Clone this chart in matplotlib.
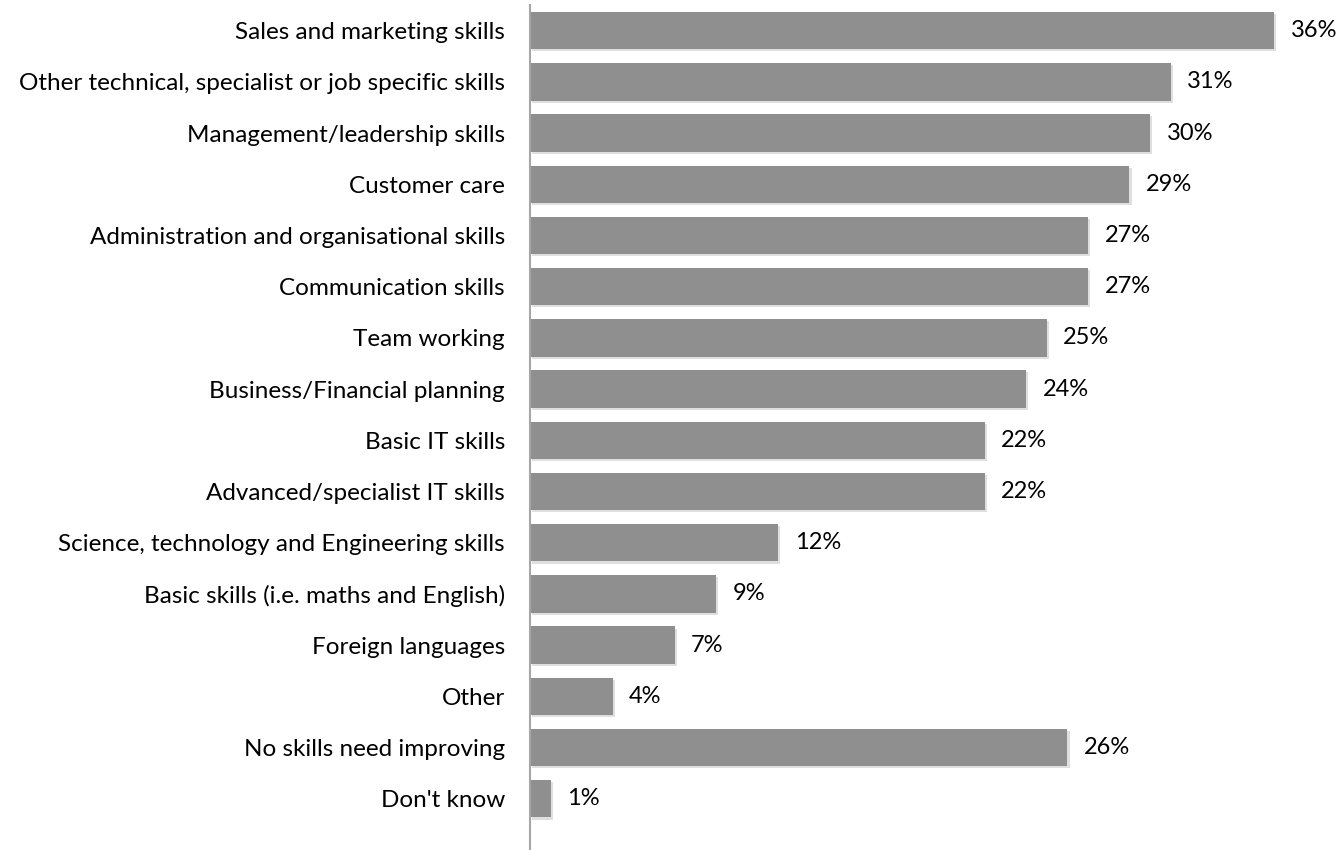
import matplotlib.pyplot as plt
import matplotlib.patheffects as pe

# skills that need improving, share of respondents (%)
skills = [
    "Sales and marketing skills",
    "Other technical, specialist or job specific skills",
    "Management/leadership skills",
    "Customer care",
    "Administration and organisational skills",
    "Communication skills",
    "Team working",
    "Business/Financial planning",
    "Basic IT skills",
    "Advanced/specialist IT skills",
    "Science, technology and Engineering skills",
    "Basic skills (i.e. maths and English)",
    "Foreign languages",
    "Other",
    "No skills need improving",
    "Don't know",
]
share = [36, 31, 30, 29, 27, 27, 25, 24, 22, 22, 12, 9, 7, 4, 26, 1]

plt.rcParams['font.family'] = ['Lato', 'DejaVu Sans']

fig = plt.figure(figsize=(13.39, 8.5), dpi=100)
ax = fig.add_axes([530 / 1339, 0, 1 - 530 / 1339, 845 / 850])

pos = list(range(len(skills)))
bars = ax.barh(pos, share, height=0.73, color='#8f8f8f', zorder=2)
for b in bars:
    b.set_path_effects([pe.SimplePatchShadow(offset=(1.5, -1.5), alpha=0.15), pe.Normal()])

for y, v in zip(pos, share):
    ax.text(v + 0.8, y, f"{v}%", va='center', ha='left', fontsize=17, color='#000000')

ax.set_yticks(pos)
ax.set_yticklabels(skills, fontsize=17.5)
ax.tick_params(axis='y', length=0, pad=18)
ax.set_xticks([])
ax.set_xlim(0, (1339 - 530) / 20.67)
ax.set_ylim(15 + 1.0, -0.5)

for s in ['top', 'right', 'bottom']:
    ax.spines[s].set_visible(False)
ax.spines['left'].set_color('#a6a6a6')
ax.spines['left'].set_linewidth(1.5)

fig.savefig('out.png', dpi=100)
